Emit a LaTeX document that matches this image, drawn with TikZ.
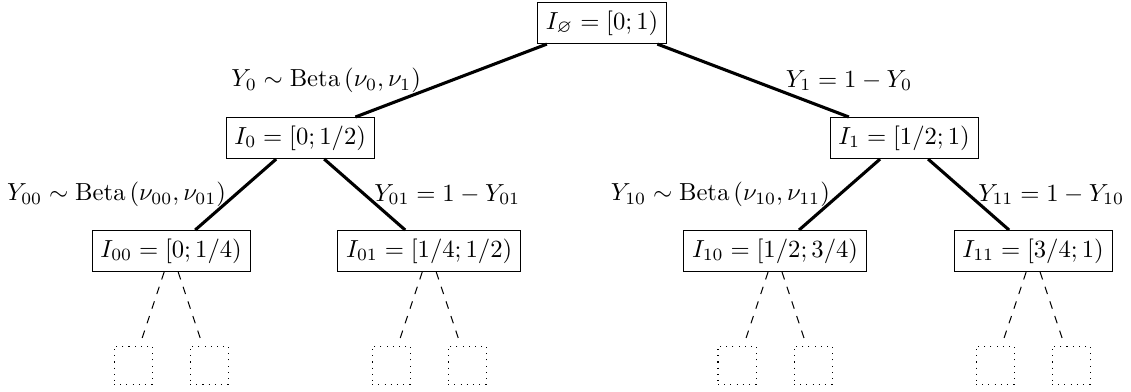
\documentclass[tikz,border=0pt]{standalone}
\usepackage{amsmath,amssymb}
\usepackage{tikz}
\usetikzlibrary{positioning}

\tikzset{
  interval/.style={draw,thin,scale=0.96},
  lbl/.style={scale=0.96},
  leafbox/.style={draw,thin,dotted,minimum size=0.52cm,inner sep=0pt},
  branch/.style={very thick},
  subtree/.style={thin,dashed,shorten >=2.5pt},
}

\begin{document}
\begin{tikzpicture}
 \useasboundingbox (0,0) rectangle (15.47,-5.36);
 \node[interval] (root) at (8.236,-0.315) {$I_{\varnothing} = [0;1)$};
 \node[interval] (i0) at (4.106,-1.888) {$I_0 = [0;1/2)$};
 \node[interval] (i1) at (12.366,-1.888) {$I_1 = [1/2;1)$};
 \node[interval] (i00) at (2.341,-3.434) {$I_{00} = [0;1/4)$};
 \node[interval] (i01) at (5.871,-3.434) {$I_{01} = [1/4;1/2)$};
 \node[interval] (i10) at (10.601,-3.434) {$I_{10} = [1/2;3/4)$};
 \node[interval] (i11) at (14.131,-3.434) {$I_{11} = [3/4;1)$};
 \draw[branch] (root) -- (i0)
   node[lbl,midway,left=8pt] {$Y_0 \sim \mathrm{Beta}\left(\nu_0,\nu_1\right)$};
 \draw[branch] (root) -- (i1)
   node[lbl,midway,right=9pt] {$Y_1 = 1 - Y_0$};
 \draw[branch] (i0) -- (i00)
   node[lbl,midway,left] {$Y_{00} \sim \mathrm{Beta}\left(\nu_{00},\nu_{01}\right)$};
 \draw[branch] (i0) -- (i01)
   node[lbl,midway,right] {$Y_{01} = 1 - Y_{01}$};
 \draw[branch] (i1) -- (i10)
   node[lbl,midway,left] {$Y_{10} \sim \mathrm{Beta}\left(\nu_{10},\nu_{11}\right)$};
 \draw[branch] (i1) -- (i11)
   node[lbl,midway,right] {$Y_{11} = 1 - Y_{10}$};
 % unexplored subtrees
 \foreach \p/\x in {i00/2.341,i01/5.871,i10/10.601,i11/14.131} {
   \node[leafbox] (\p-a) at (\x-0.52,-4.993) {};
   \node[leafbox] (\p-b) at (\x+0.52,-4.993) {};
   \draw[subtree] (\p) -- (\p-a);
   \draw[subtree] (\p) -- (\p-b);
 }
\end{tikzpicture}
\end{document}
